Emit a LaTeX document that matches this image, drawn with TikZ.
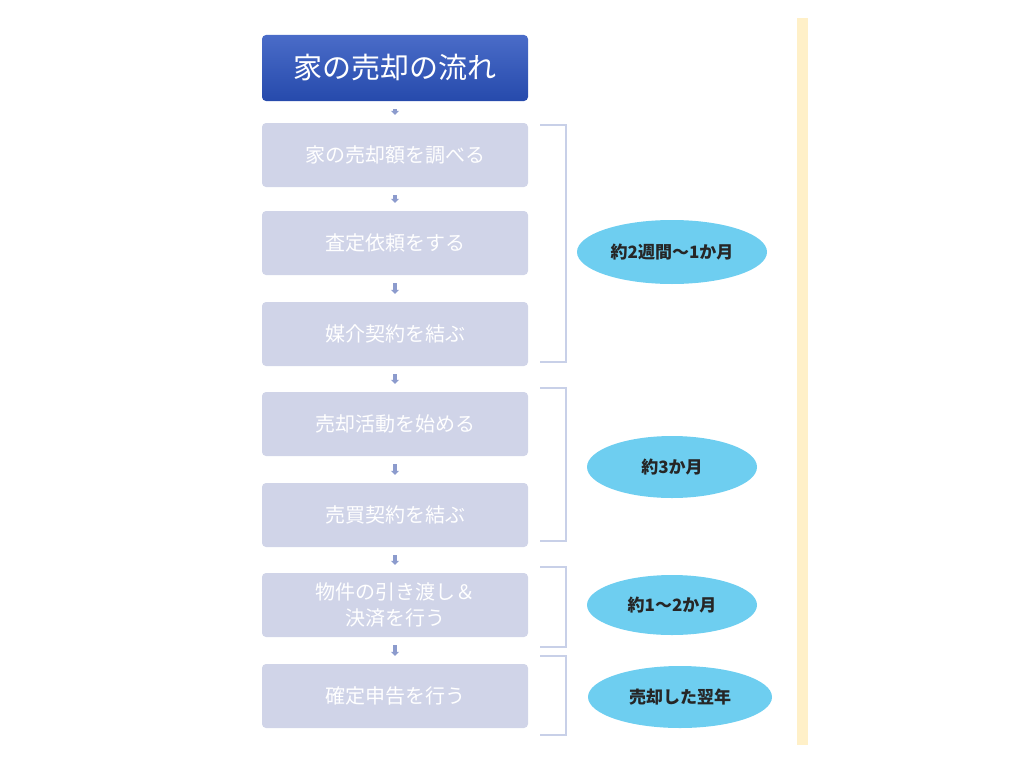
\documentclass[tikz,border=0pt]{standalone}
\usepackage{fontspec}
\newfontfamily\jp{Noto Sans CJK JP}
\usetikzlibrary{arrows.meta,shapes.geometric}
\definecolor{stepfill}{RGB}{208,212,232}
\definecolor{titletop}{RGB}{74,108,200}
\definecolor{titlebot}{RGB}{38,74,172}
\definecolor{arrowc}{RGB}{140,155,205}
\definecolor{bracec}{RGB}{200,208,232}
\definecolor{ovalc}{RGB}{110,206,240}
\definecolor{barc}{RGB}{255,240,200}
\begin{document}
\begin{tikzpicture}[x=1pt,y=-1pt,
    stepbox/.style={fill=stepfill, rounded corners=4pt, minimum width=266pt, minimum height=64pt, text=white, font=\jp\fontsize{20}{26}\selectfont, align=center},
    flowarrow/.style={arrowc, line width=4pt, shorten <=8pt, shorten >=8pt, -{Triangle[width=8pt,length=4pt]}},
    brace/.style={bracec, line width=2pt},
    oval/.style={ellipse, fill=ovalc, font=\jp\bfseries\fontsize{17}{20}\selectfont, text=black!85}]
  \useasboundingbox (0,0) rectangle (1024,760);
  \fill[barc] (797,18) rectangle (808,745);
  % title and steps
  \node[rounded corners=4pt, top color=titletop, bottom color=titlebot, minimum width=266pt, minimum height=66pt, text=white, font=\jp\fontsize{29}{34}\selectfont] (T) at (395,68) {家の売却の流れ};
  \node[stepbox] (S1) at (395,155) {家の売却額を調べる};
  \node[stepbox] (S2) at (395,243) {査定依頼をする};
  \node[stepbox] (S3) at (395,334) {媒介契約を結ぶ};
  \node[stepbox] (S4) at (395,424) {売却活動を始める};
  \node[stepbox] (S5) at (395,515) {売買契約を結ぶ};
  \node[stepbox] (S6) at (395,605) {物件の引き渡し＆\\決済を行う};
  \node[stepbox] (S7) at (395,696) {確定申告を行う};
  \foreach \a/\b in {T/S1,S1/S2,S2/S3,S3/S4,S4/S5,S5/S6,S6/S7}
    \draw[flowarrow] (\a.south) -- (\b.north);
  % periods
  \draw[brace] (540,125) -- (566,125) -- (566,362) -- (540,362);
  \draw[brace] (540,388) -- (566,388) -- (566,541) -- (540,541);
  \draw[brace] (540,567) -- (566,567) -- (566,647) -- (540,647);
  \draw[brace] (540,656) -- (566,656) -- (566,735) -- (540,735);
  \node[oval, minimum width=190pt, minimum height=64pt] (P1) at (672,252) {約2週間〜1か月};
  \node[oval, minimum width=170pt, minimum height=62pt] (P2) at (672,467) {約3か月};
  \node[oval, minimum width=170pt, minimum height=60pt] (P3) at (672,605) {約1〜2か月};
  \node[oval, minimum width=184pt, minimum height=62pt] (P4) at (680,697) {売却した翌年};
\end{tikzpicture}
\end{document}
